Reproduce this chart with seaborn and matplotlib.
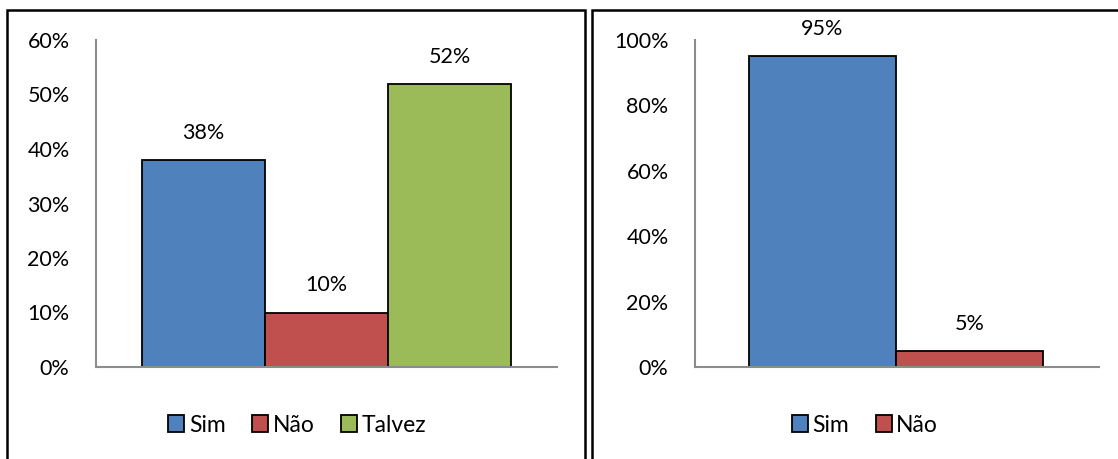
import matplotlib
matplotlib.use("Agg")
import matplotlib.pyplot as plt
from matplotlib.patches import Rectangle
from matplotlib.ticker import PercentFormatter
import pandas as pd
import seaborn as sns

# dados
left_labels = ["Sim", "Não", "Talvez"]
left_values = [38, 10, 52]
right_labels = ["Sim", "Não"]
right_values = [95, 5]

colors = {"Sim": "#4F81BD", "Não": "#C0504D", "Talvez": "#9BBB59"}

sns.set_theme(style="white")
plt.rcParams["font.family"] = ["Lato", "DejaVu Sans"]
plt.rcParams["text.color"] = "black"
FS = 15.5


def draw_panel(ax, labels, values, ymax, ystep, xlim, legend_x):
    df = pd.DataFrame({"resp": labels, "pct": values})
    sns.barplot(data=df, x="resp", y="pct", hue="resp", palette=colors,
                width=1.0, edgecolor="black", linewidth=1.3, legend=False,
                saturation=1, ax=ax)
    ax.set_ylim(0, ymax)
    ax.set_yticks(range(0, ymax + 1, ystep))
    ax.yaxis.set_major_formatter(PercentFormatter(decimals=0))
    ax.set_xlim(*xlim)
    ax.set_xticks([])
    ax.set_xlabel("")
    ax.set_ylabel("")
    ax.tick_params(axis="y", length=0, pad=19, labelsize=FS, labelcolor="black")
    for s in ["top", "right"]:
        ax.spines[s].set_visible(False)
    for s in ["left", "bottom"]:
        ax.spines[s].set_color("#8c8c8c")
        ax.spines[s].set_linewidth(1.5)
    for bar, v in zip(ax.patches, values):
        ax.annotate(f"{v}%", (bar.get_x() + bar.get_width() / 2, bar.get_height()),
                    xytext=(0, 19.5), textcoords="offset points",
                    ha="center", va="center", fontsize=FS, color="black")
    handles = [Rectangle((0, 0), 1, 1, facecolor=colors[l], edgecolor="black",
                         linewidth=1.3) for l in labels]
    fig.legend(handles, labels, loc="center", bbox_to_anchor=(legend_x, 0.074),
               ncol=len(labels), frameon=False, handlelength=0.7, handleheight=0.7,
               handletextpad=0.2, columnspacing=1.15, fontsize=16.5,
               labelcolor="black")


fig = plt.figure(figsize=(11.18, 4.59), dpi=100)
ax1 = fig.add_axes([96 / 1118, 1 - 367 / 459, 461 / 1118, 327 / 459])
ax2 = fig.add_axes([695 / 1118, 1 - 367 / 459, 404 / 1118, 327 / 459])

draw_panel(ax1, left_labels, left_values, 60, 10, (-0.874, 2.874), 297 / 1118)
draw_panel(ax2, right_labels, right_values, 100, 20, (-0.867, 1.881), 865 / 1118)

# molduras dos dois painéis
W, H = 1118, 459
for x0, x1 in [(7, 585), (592, 1130)]:
    fig.patches.append(Rectangle((x0 / W, -0.05), (x1 - x0) / W, 1 - 10 / H + 0.05,
                                 transform=fig.transFigure, fill=False,
                                 edgecolor="black", linewidth=1.8))

fig.savefig("out.png", dpi=100)
